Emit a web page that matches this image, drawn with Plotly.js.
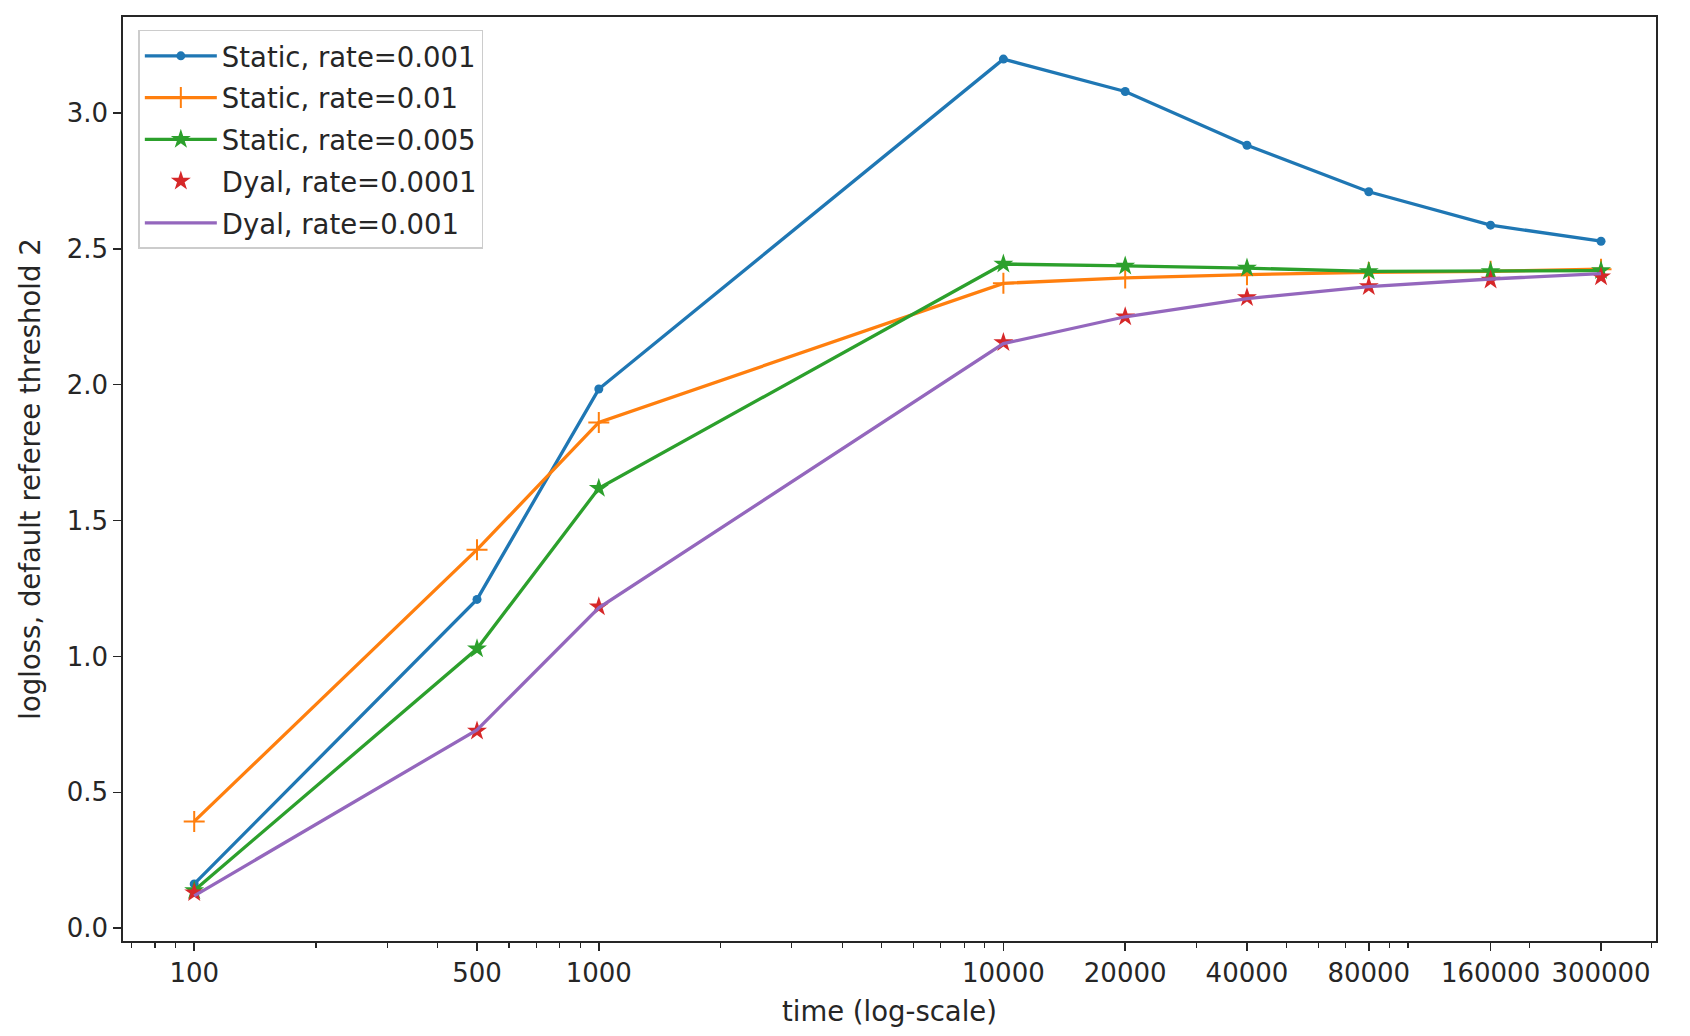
<!DOCTYPE html>
<html>
<head>
<meta charset="utf-8">
<script src="https://cdn.plot.ly/plotly-3.0.1.min.js"></script>
<style>
  html, body { margin: 0; padding: 0; background: #ffffff; }
  #chart { width: 1690px; height: 1036px; }
</style>
</head>
<body>
<div id="chart"></div>
<script>
// Time steps (x axis, log scale)
const times = [100, 500, 1000, 10000, 20000, 40000, 80000, 160000, 300000];

// Logloss values
const staticRate001 = [0.163, 1.21, 1.984, 3.198, 3.079, 2.881, 2.71, 2.587, 2.528];
const staticRate01 = [0.393, 1.393, 1.861, 2.373, 2.393, 2.405, 2.413, 2.417, 2.425];
const staticRate005 = [0.139, 1.028, 1.619, 2.444, 2.437, 2.429, 2.417, 2.417, 2.42];
const dyalRate0001 = [0.131, 0.726, 1.183, 2.155, 2.25, 2.321, 2.361, 2.385, 2.397];
const dyalRate001 = [0.119, 0.73, 1.179, 2.151, 2.25, 2.317, 2.361, 2.389, 2.409];

// Tick labels
const xTickVals = [100, 500, 1000, 10000, 20000, 40000, 80000, 160000, 300000];
const yTickVals = [0, 0.5, 1, 1.5, 2, 2.5, 3];

const font = "DejaVu Sans, sans-serif";
const textColor = "#262626";

// each trace in its own legend group so tracegroupgap spaces the entries
let traces = [
    {
        x: times, y: staticRate001, name: "Static, rate=0.001", legendgroup: "a",
        type: "scatter", mode: "lines+markers",
        line: {color: "#1f77b4", width: 3.3},
        marker: {symbol: "circle", size: 9, color: "#1f77b4"}
    },
    {
        x: times, y: staticRate01, name: "Static, rate=0.01", legendgroup: "b",
        type: "scatter", mode: "lines+markers",
        line: {color: "#ff7f0e", width: 3.3},
        marker: {symbol: "cross-thin", size: 15, color: "#ff7f0e", line: {color: "#ff7f0e", width: 2}}
    },
    {
        x: times, y: staticRate005, name: "Static, rate=0.005", legendgroup: "c",
        type: "scatter", mode: "lines+markers",
        line: {color: "#2ca02c", width: 3.3},
        marker: {symbol: "star", size: 15, color: "#2ca02c"}
    },
    {
        x: times, y: dyalRate0001, name: "Dyal, rate=0.0001", legendgroup: "d",
        type: "scatter", mode: "markers",
        marker: {symbol: "star", size: 15, color: "#d62728"}
    },
    {
        x: times, y: dyalRate001, name: "Dyal, rate=0.001", legendgroup: "e",
        type: "scatter", mode: "lines",
        line: {color: "#9467bd", width: 3.3}
    }
];

let layout = {
    width: 1690,
    height: 1036,
    paper_bgcolor: "#ffffff",
    plot_bgcolor: "#ffffff",
    font: {family: font, size: 26, color: textColor},
    margin: {l: 123, r: 34, t: 17, b: 95},
    showlegend: true,
    legend: {
        x: 0.01, y: 0.986, xanchor: "left", yanchor: "top",
        bgcolor: "rgba(255,255,255,0.8)",
        bordercolor: "#cccccc", borderwidth: 1.5,
        font: {family: font, size: 27.5, color: textColor},
        itemwidth: 72,
        traceorder: "grouped",
        tracegroupgap: 3
    },
    xaxis: {
        type: "log",
        range: [1.824, 5.613],
        tickvals: xTickVals,
        ticktext: xTickVals.map(String),
        tickfont: {family: font, size: 26, color: textColor},
        ticks: "outside", ticklen: 8, tickwidth: 1.5, tickcolor: textColor,
        showline: true, linecolor: textColor, linewidth: 1.8, mirror: true,
        showgrid: false, zeroline: false,
        minor: {ticks: "outside", ticklen: 5, tickwidth: 1.2, tickcolor: textColor, dtick: "D1", showgrid: false},
        title: {text: "time (log-scale)", font: {family: font, size: 27.5, color: textColor}, standoff: 15}
    },
    yaxis: {
        range: [-0.047, 3.353],
        tickvals: yTickVals,
        tickformat: ".1f",
        tickfont: {family: font, size: 26, color: textColor},
        ticks: "outside", ticklen: 8, tickwidth: 1.5, tickcolor: textColor,
        showline: true, linecolor: textColor, linewidth: 1.8, mirror: true,
        showgrid: false, zeroline: false,
        title: {text: "logloss, default referee threshold 2", font: {family: font, size: 27.5, color: textColor}, standoff: 18}
    }
};

Plotly.newPlot("chart", traces, layout, {displayModeBar: false, staticPlot: true});
</script>
</body>
</html>
